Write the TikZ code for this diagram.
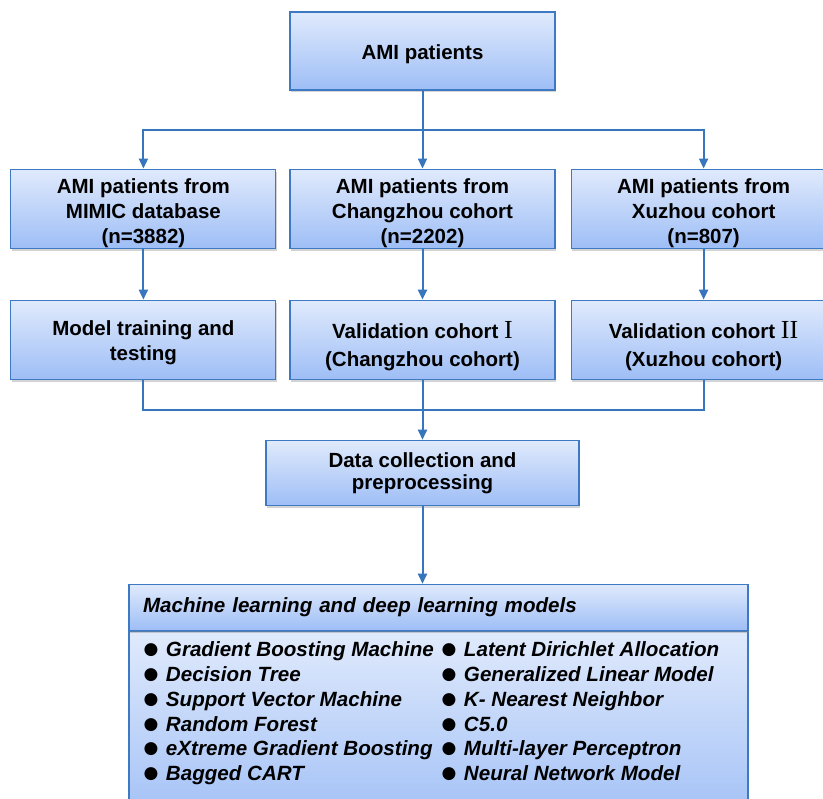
\documentclass[tikz,border=0pt]{standalone}
\usepackage{fontspec}
\setmainfont{Liberation Sans}
\newfontfamily\romfont{Liberation Serif}
\newfontfamily\dotfont{DejaVu Sans}
\usetikzlibrary{positioning,shadows,arrows.meta}
\definecolor{boxline}{RGB}{62,122,196}
\definecolor{boxtop}{RGB}{224,234,252}
\definecolor{boxbottom}{RGB}{158,190,246}
\definecolor{arrowblue}{RGB}{55,117,189}
\newcommand{\cohortnum}[1]{{\romfont\mdseries\fontsize{26}{25}\selectfont #1}}
\newcommand{\dotitem}{\raisebox{2pt}{\dotfont\upshape\mdseries\fontsize{17}{24.7}\selectfont ●}\hspace{7.5pt}}
\newcommand{\topstrut}[1]{\rule{0pt}{#1}}
\tikzstyle{bluebox} =
[
	draw=boxline,rectangle,line width=1.1pt,inner ysep=0pt,
	top color=boxtop, bottom color=boxbottom,
	drop shadow={shadow xshift=1pt,shadow yshift=-2.5pt,opacity=0.35},
	minimum width=265pt, minimum height=79pt,
	align=center, font=\bfseries\fontsize{20.5}{25}\selectfont
]
\tikzstyle{mlbox} =
[
	bluebox, minimum width=619pt, inner xsep=14pt, text width=591pt,
	align=left, font=\bfseries\itshape\fontsize{20.6}{25}\selectfont
]
\tikzstyle{listcol} =
[
	inner sep=0pt, align=left,
	font=\bfseries\itshape\fontsize{20.6}{24.7}\selectfont
]
\tikzstyle{link} = [draw=arrowblue, line width=2pt]
\tikzstyle{arr} = [link, -{Triangle[width=9pt,length=10pt]}]

\begin{document}
\begin{tikzpicture}[x=1pt,y=-1pt]
\useasboundingbox (0,0) rectangle (823,799);

\node[bluebox, minimum height=78pt](AMI) at (422.5,51) {\topstrut{21pt}AMI patients};

\node[bluebox](CZ)[below=78pt of AMI]{\topstrut{24pt}AMI patients from\\Changzhou cohort\\(n=2202)};
\node[bluebox](MIMIC)[left=13pt of CZ]{\topstrut{24pt}AMI patients from\\MIMIC database\\(n=3882)};
\node[bluebox](XZ)[right=15pt of CZ]{\topstrut{24pt}AMI patients from\\Xuzhou cohort\\(n=807)};

\node[bluebox](TRAIN)[below=51pt of MIMIC]{\topstrut{20pt}Model training and\\testing};
\node[bluebox](VAL1)[below=51pt of CZ]{\topstrut{30pt}Validation cohort \cohortnum{I}\\[3pt](Changzhou cohort)};
\node[bluebox](VAL2)[below=51pt of XZ]{\topstrut{30pt}Validation cohort \cohortnum{II}\\[3pt](Xuzhou cohort)};

\node[bluebox, minimum width=313pt, minimum height=65pt,
	font=\bfseries\fontsize{20.5}{22}\selectfont](DATA)[below=60pt of VAL1]{Data collection and\\preprocessing};

% model box: body first, so the header shadow lies on it
\node[mlbox, minimum height=202pt](MLBODY)[below=125pt of DATA, xshift=16pt]{};
\node[mlbox, minimum height=46pt](MLHEAD)[above=0pt of MLBODY]{Machine learning and deep learning models};

\node[listcol](LEFTLIST)[below right=11pt and 15pt of MLBODY.north west]{\dotitem Gradient Boosting Machine\\
\dotitem Decision Tree\\
\dotitem Support Vector Machine\\
\dotitem Random Forest\\
\dotitem eXtreme Gradient Boosting\\
\dotitem Bagged CART};
\node[listcol](RIGHTLIST)[below right=11pt and 313pt of MLBODY.north west]{\dotitem Latent Dirichlet Allocation\\
\dotitem Generalized Linear Model\\
\dotitem K- Nearest Neighbor\\
\dotitem C5.0\\
\dotitem Multi-layer Perceptron\\
\dotitem Neural Network Model};

\coordinate[below=39pt of AMI](SPLIT);
\coordinate[below=30pt of VAL1](JOIN);

\path[link] (AMI) -- (SPLIT);
\path[arr] (SPLIT) -| (MIMIC);
\path[arr] (SPLIT) -- (CZ);
\path[arr] (SPLIT) -| (XZ);

\path[arr] (MIMIC) -- (TRAIN);
\path[arr] (CZ) -- (VAL1);
\path[arr] (XZ) -- (VAL2);

\path[link] (TRAIN) |- (JOIN);
\path[link] (VAL2) |- (JOIN);
\path[arr] (VAL1) -- (DATA);
\path[arr] (DATA) -- (DATA |- MLHEAD.north);

\end{tikzpicture}
\end{document}
